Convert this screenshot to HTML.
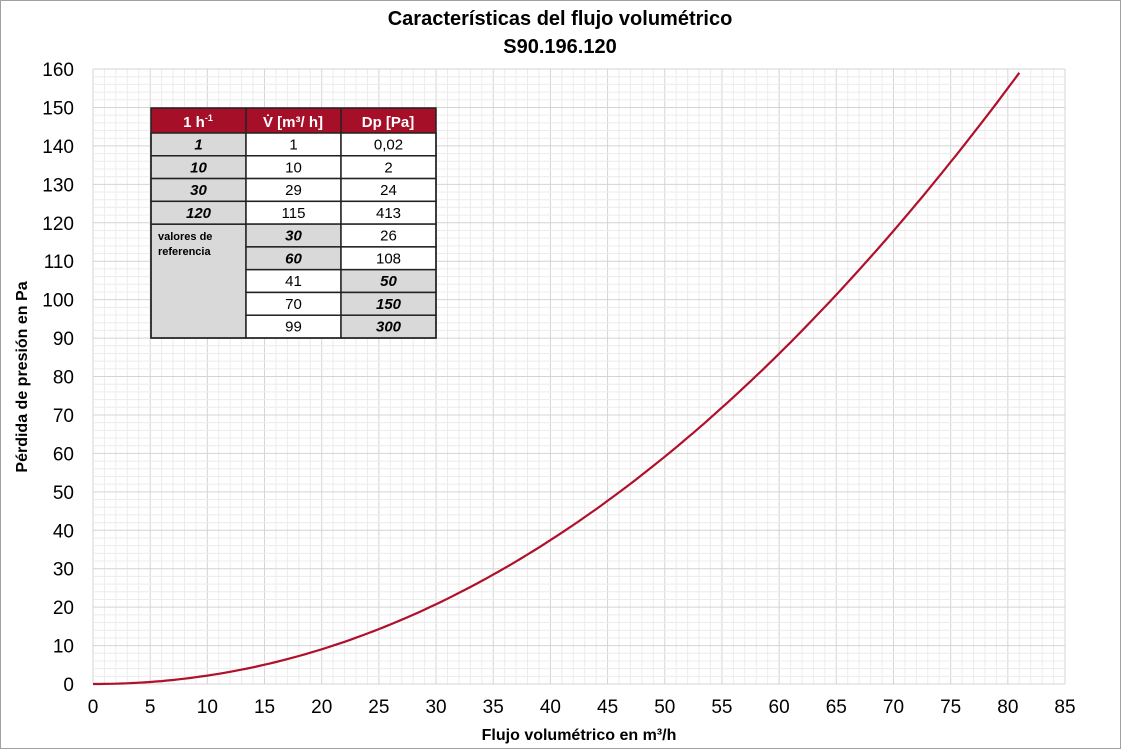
<!DOCTYPE html>
<html><head><meta charset="utf-8"><style>
body{margin:0;background:#fff;width:1121px;height:749px;overflow:hidden;font-family:"Liberation Sans",Arial,sans-serif}
</style></head><body>
<svg width="1121" height="749" xmlns="http://www.w3.org/2000/svg" font-family="Liberation Sans, Arial, sans-serif">
<rect x="0.5" y="0.5" width="1120" height="748" fill="#fff" stroke="#a0a0a0"/>
<g id="grid"></g>
<text x="560" y="25" text-anchor="middle" font-size="20" font-weight="bold">Características del flujo volumétrico</text>
<text x="560" y="53" text-anchor="middle" font-size="20" font-weight="bold">S90.196.120</text>
<text transform="translate(27,377) rotate(-90)" text-anchor="middle" font-size="16" font-weight="bold">Pérdida de presión en Pa</text>
<text x="579" y="740" text-anchor="middle" font-size="16" font-weight="bold">Flujo volumétrico en m³/h</text>
<g id="lab" font-size="19"></g>
<path id="curve" fill="none" stroke="#b0102a" stroke-width="2.2"/>
<g id="tbl"></g>
</svg>
<script>
(function(){
const X0=93,XS=972/85,Y0=684,YS=615/160;
const g=document.getElementById('grid');let s='';
for(let i=0;i<=85;i++){const x=X0+i*XS;s+=`<line x1="${x}" y1="69" x2="${x}" y2="684" stroke="${i%5?'#ececec':'#d4d4d4'}" stroke-width="1"/>`;}
for(let j=0;j<=160;j+=2){const y=Y0-j*YS;s+=`<line x1="93" y1="${y}" x2="1065" y2="${y}" stroke="${j%10?'#ececec':'#d4d4d4'}" stroke-width="1"/>`;}
g.innerHTML=s;
let l='';
for(let i=0;i<=85;i+=5)l+=`<text x="${X0+i*XS}" y="713" text-anchor="middle">${i}</text>`;
for(let j=0;j<=160;j+=10)l+=`<text x="74" y="${Y0-j*YS+7}" text-anchor="end">${j}</text>`;
document.getElementById('lab').innerHTML=l;
let d='';for(let v=0;v<=81;v+=0.5){const p=159*Math.pow(v/81,2.05);d+=(v?'L':'M')+(X0+v*XS).toFixed(1)+','+(Y0-p*YS).toFixed(1);}
document.getElementById('curve').setAttribute('d',d);
const rows=[['1','1','0,02',1,0,0],['10','10','2',1,0,0],['30','29','24',1,0,0],['120','115','413',1,0,0],['','30','26',0,1,0],['','60','108',0,1,0],['','41','50',0,0,1],['','70','150',0,0,1],['','99','300',0,0,1]];
const cx=[151,246,341,436],rh=205/9;
let t=`<rect x="151" y="108" width="285" height="25" fill="#a50f28"/>`;
t+=`<text x="198" y="127" text-anchor="middle" font-size="15" font-weight="bold" fill="#fff">1 h<tspan font-size="9" dy="-6">-1</tspan></text>`;
t+=`<text x="293" y="127" text-anchor="middle" font-size="15" font-weight="bold" fill="#fff">V̇ [m³/ h]</text>`;
t+=`<text x="388" y="127" text-anchor="middle" font-size="15" font-weight="bold" fill="#fff">Dp [Pa]</text>`;
t+=`<rect x="151" y="${133+4*rh}" width="95" height="${5*rh}" fill="#d9d9d9" stroke="#222" stroke-width="1.5"/>`;
rows.forEach((r,i)=>{const y=133+i*rh;
 for(let c=0;c<3;c++){ if(c==0&&i>=4)continue; const sh=c==0?r[3]:(c==1?r[4]:r[5]);
  t+=`<rect x="${cx[c]}" y="${y}" width="95" height="${rh}" fill="${sh?'#d9d9d9':'#fff'}" stroke="#222" stroke-width="1.5"/>`;
  const txt=r[c]; if(txt) t+=`<text x="${cx[c]+47.5}" y="${y+16.5}" text-anchor="middle" font-size="15" ${sh?'font-weight="bold" font-style="italic"':''}>${txt}</text>`;}
});
t+=`<text x="158" y="240" font-size="11" font-weight="bold">valores de</text><text x="158" y="255" font-size="11" font-weight="bold">referencia</text>`;
t+=`<rect x="151" y="108" width="285" height="230" fill="none" stroke="#222" stroke-width="1.5"/>`;
for(let c=1;c<3;c++)t+=`<line x1="${cx[c]}" y1="108" x2="${cx[c]}" y2="133" stroke="#222" stroke-width="1.5"/>`;
document.getElementById('tbl').innerHTML=t;
})();
</script>
</body></html>
